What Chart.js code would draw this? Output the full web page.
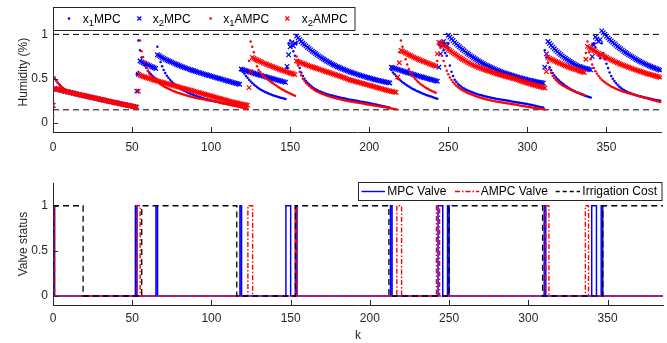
<!DOCTYPE html>
<html><head><meta charset="utf-8">
<script src="https://cdn.jsdelivr.net/npm/chart.js@4.4.1/dist/chart.umd.min.js"></script>
<style>
html,body{margin:0;padding:0;background:#fff;}
#wrap{position:relative;width:667px;height:343px;overflow:hidden;}
canvas{position:absolute;left:0;}
#topc{top:0;} #botc{top:171px;}
</style></head><body>
<div id="wrap"><canvas id="topc" width="667" height="171"></canvas><canvas id="botc" width="667" height="172"></canvas></div>
<script>
// ---------- data (index = time step k) ----------
const kMax = 385;
const xTicks = [0,50,100,150,200,250,300,350];
const yTicks = [0,0.5,1];
const humidityBounds = [1, 0.15];

const x1MPC = [
.08,.51,.48,.455,.435,.415,.40,.385,.372,.362,
.354,.347,.34,.334,.328,.323,.319,.315,.311,.307,
.303,.299,.295,.291,.287,.283,.279,.275,.271,.267,
.263,.259,.255,.251,.247,.243,.239,.235,.232,.228,
.224,.22,.216,.212,.209,.205,.201,.197,.193,.19,
.186,.182,.178,.55,.93,.82,.74,.69,.65,.62,
.59,.57,.55,.53,.515,.50,.86,.76,.69,.64,
.60,.565,.535,.51,.49,.47,.452,.436,.421,.408,
.396,.385,.374,.364,.355,.346,.338,.33,.323,.316,
.309,.303,.297,.291,.285,.28,.275,.27,.265,.26,
.256,.252,.248,.244,.24,.236,.232,.228,.224,.221,
.218,.215,.212,.209,.206,.203,.20,.197,.194,.60,
.58,.555,.53,.51,.49,.47,.452,.436,.421,.407,
.394,.382,.371,.361,.352,.344,.336,.329,.322,.315,
.309,.303,.297,.292,.287,.282,.277,.272,.62,.90,
.93,.87,.81,.76,.90,.70,.62,.57,.53,.50,
.475,.455,.437,.421,.407,.394,.382,.372,.363,.355,
.348,.341,.335,.329,.323,.318,.313,.308,.303,.299,
.295,.291,.287,.283,.279,.275,.271,.267,.263,.26,
.257,.254,.251,.248,.245,.242,.239,.236,.233,.23,
.226,.222,.218,.214,.21,.206,.202,.198,.194,.19,
.186,.182,.178,.174,.60,.57,.55,.53,.51,.493,
.477,.462,.448,.435,.423,.412,.401,.391,.381,.372,
.363,.355,.347,.339,.332,.325,.318,.311,.305,.299,
.293,.287,.281,.275,.88,.92,.87,.82,.79,.76,
.90,.65,.58,.53,.49,.465,.445,.428,.413,.40,
.39,.38,.371,.363,.355,.348,.341,.335,.329,.323,
.318,.313,.308,.303,.299,.295,.291,.287,.283,.279,
.275,.272,.269,.266,.263,.26,.257,.254,.251,.248,
.245,.242,.239,.236,.233,.23,.227,.224,.221,.218,
.215,.211,.207,.203,.199,.195,.191,.187,.183,.179,
.175,.82,.74,.68,.63,.595,.565,.54,.518,.498,
.48,.464,.449,.435,.422,.41,.398,.387,.377,.367,
.358,.349,.341,.333,.326,.319,.312,.306,.30,.294,
.288,.88,.90,.85,.80,.76,.73,.90,.79,.72,
.67,.62,.57,.53,.50,.475,.452,.432,.414,.398,
.385,.373,.363,.354,.346,.339,.332,.326,.32,.314,
.309,.304,.299,.294,.29,.286,.282,.278,.274,.27,
.266,.262,.258,.255,.252];

const x2MPC = [
.2,.39,.385,.38,.376,.372,.367,.362,.358,.354,
.35,.345,.341,.337,.333,.328,.324,.32,.316,.312,
.308,.304,.3,.296,.292,.288,.284,.28,.276,.272,
.268,.264,.26,.256,.252,.248,.244,.24,.237,.233,
.229,.225,.221,.217,.214,.21,.206,.202,.198,.195,
.191,.187,.183,.36,.55,.70,.69,.68,.672,.664,
.656,.648,.64,.632,.624,.616,.77,.76,.75,.74,
.73,.721,.712,.703,.695,.687,.679,.671,.663,.655,
.648,.641,.634,.627,.62,.614,.608,.602,.596,.59,
.584,.578,.572,.566,.56,.555,.55,.545,.54,.535,
.529,.524,.519,.513,.508,.503,.498,.493,.487,.482,
.477,.472,.467,.462,.457,.452,.447,.443,.438,.61,
.603,.597,.591,.585,.579,.573,.567,.562,.556,.551,
.545,.54,.535,.53,.525,.52,.515,.51,.505,.50,
.495,.49,.485,.48,.475,.47,.465,.46,.64,.77,
.86,.91,.87,.90,.98,.96,.94,.92,.90,.885,
.87,.855,.84,.825,.81,.797,.784,.771,.758,.746,
.734,.722,.711,.70,.69,.68,.67,.661,.652,.643,
.635,.627,.619,.611,.604,.597,.59,.583,.576,.57,
.564,.558,.552,.546,.54,.535,.529,.524,.519,.514,
.509,.504,.499,.494,.489,.485,.48,.476,.472,.468,
.464,.46,.456,.452,.63,.624,.618,.612,.606,.60,
.594,.588,.582,.576,.571,.565,.56,.554,.549,.543,
.538,.533,.527,.522,.517,.512,.507,.502,.497,.492,
.487,.482,.477,.472,.63,.78,.88,.92,.89,.87,
.99,.97,.95,.93,.91,.893,.876,.86,.845,.83,
.815,.80,.787,.774,.761,.749,.737,.725,.714,.703,
.692,.682,.672,.662,.653,.644,.635,.627,.619,.611,
.603,.596,.589,.582,.575,.569,.563,.557,.551,.545,
.539,.534,.528,.523,.518,.513,.508,.503,.498,.494,
.489,.485,.481,.477,.473,.469,.465,.461,.458,.455,
.452,.63,.78,.92,.898,.877,.857,.838,.82,.803,
.787,.772,.758,.744,.731,.718,.706,.694,.683,.672,
.662,.652,.643,.638,.632,.626,.62,.615,.61,.605,
.60,.75,.88,.97,.95,.92,.94,1.04,1.02,1.0,
.98,.96,.943,.926,.91,.894,.879,.864,.85,.836,
.822,.809,.796,.784,.772,.76,.749,.738,.727,.717,
.707,.697,.688,.679,.67,.662,.654,.646,.638,.631,
.624,.617,.61,.603,.597];

const x1AMPC = [
.076,.51,.48,.455,.435,.415,.40,.385,.372,.362,
.354,.347,.34,.334,.328,.323,.319,.315,.311,.307,
.303,.299,.295,.291,.287,.283,.279,.275,.271,.267,
.263,.259,.255,.251,.247,.243,.239,.235,.232,.228,
.224,.22,.216,.212,.209,.205,.201,.197,.193,.19,
.186,.182,.178,.178,.58,.93,.81,.745,.69,.63,
.59,.556,.535,.515,.497,.48,.465,.451,.438,.426,
.415,.405,.395,.386,.378,.37,.363,.356,.349,.343,
.337,.331,.325,.319,.314,.309,.304,.299,.294,.289,
.285,.281,.277,.274,.271,.268,.265,.262,.259,.256,
.253,.249,.245,.241,.237,.233,.229,.225,.221,.217,
.213,.209,.205,.201,.197,.193,.189,.185,.181,.177,
.174,.171,.168,.165,.70,.92,.86,.80,.70,.64,
.60,.575,.553,.534,.517,.502,.488,.475,.462,.45,
.438,.426,.414,.402,.391,.38,.37,.36,.351,.342,
.333,.325,.317,.309,.75,.65,.58,.54,.50,.475,
.453,.434,.417,.402,.389,.377,.366,.356,.347,.339,
.331,.324,.317,.311,.305,.299,.294,.289,.284,.279,
.275,.271,.267,.263,.259,.255,.251,.247,.244,.241,
.238,.235,.232,.229,.226,.223,.22,.217,.214,.211,
.208,.205,.202,.199,.196,.193,.19,.187,.184,.181,
.178,.175,.172,.169,.166,.163,.16,.157,.50,.80,
.93,.86,.80,.72,.66,.61,.57,.54,.52,.50,
.48,.463,.447,.433,.42,.408,.397,.386,.376,.367,
.358,.35,.342,.70,.90,.85,.76,.70,.645,.59,
.55,.515,.485,.46,.44,.422,.407,.394,.382,.371,
.361,.352,.343,.335,.327,.32,.313,.306,.30,.294,
.288,.283,.278,.273,.268,.264,.26,.256,.252,.248,
.245,.242,.239,.236,.233,.23,.227,.224,.221,.218,
.215,.212,.209,.206,.203,.20,.197,.194,.191,.188,
.185,.182,.179,.176,.173,.17,.167,.164,.161,.158,
.155,.153,.78,.68,.61,.565,.53,.505,.485,.468,
.453,.44,.428,.417,.407,.397,.388,.379,.371,.363,
.356,.349,.342,.336,.33,.324,.318,.79,.92,.80,
.72,.66,.62,.585,.555,.53,.508,.49,.474,.46,
.447,.435,.424,.414,.405,.396,.388,.38,.373,.366,
.36,.354,.348,.342,.337,.332,.327,.322,.317,.312,
.307,.302,.297,.292,.287,.282,.277,.272,.267,.262,
.257,.252,.247,.243,.239];

const x2AMPC = [
.2,.39,.385,.38,.376,.372,.367,.362,.358,.354,
.35,.345,.341,.337,.333,.328,.324,.32,.316,.312,
.308,.304,.3,.296,.292,.288,.284,.28,.276,.272,
.268,.264,.26,.256,.252,.248,.244,.24,.237,.233,
.229,.225,.221,.217,.214,.21,.206,.202,.198,.195,
.191,.187,.183,.18,.36,.54,.533,.526,.52,.514,
.508,.502,.496,.49,.485,.48,.475,.47,.465,.46,
.455,.45,.445,.44,.435,.43,.425,.42,.415,.41,
.405,.40,.395,.39,.385,.38,.375,.37,.365,.36,
.355,.35,.345,.34,.335,.33,.325,.32,.315,.31,
.305,.30,.295,.29,.285,.28,.275,.27,.265,.26,
.255,.25,.245,.24,.236,.232,.228,.224,.22,.216,
.212,.208,.205,.202,.40,.58,.74,.73,.721,.712,
.703,.695,.687,.679,.671,.663,.656,.649,.642,.635,
.628,.621,.614,.607,.601,.595,.589,.583,.577,.571,
.565,.559,.553,.547,.70,.693,.686,.679,.672,.665,
.658,.651,.645,.639,.633,.627,.621,.615,.609,.603,
.597,.591,.585,.579,.573,.567,.561,.555,.549,.543,
.537,.531,.525,.519,.513,.506,.499,.492,.486,.481,
.476,.471,.466,.461,.456,.451,.446,.441,.436,.431,
.426,.421,.416,.411,.406,.401,.396,.391,.386,.381,
.376,.371,.366,.362,.358,.354,.35,.346,.52,.68,
.82,.81,.80,.79,.78,.771,.762,.753,.744,.736,
.728,.72,.712,.704,.697,.69,.683,.676,.669,.662,
.655,.648,.641,.78,.91,.905,.89,.875,.86,.846,
.832,.818,.805,.792,.779,.767,.755,.743,.731,.72,
.709,.698,.688,.678,.668,.659,.651,.643,.636,.629,
.622,.615,.608,.602,.596,.59,.584,.578,.572,.566,
.56,.554,.548,.543,.538,.533,.528,.523,.518,.513,
.508,.503,.498,.493,.488,.481,.475,.469,.463,.457,
.451,.445,.44,.435,.43,.425,.42,.415,.41,.405,
.40,.396,.58,.74,.73,.721,.712,.703,.694,.686,
.678,.67,.662,.654,.647,.64,.633,.626,.619,.612,
.606,.60,.594,.588,.582,.576,.57,.72,.865,.853,
.841,.83,.819,.808,.797,.787,.777,.767,.757,.748,
.739,.73,.721,.712,.704,.696,.688,.68,.672,.664,
.657,.65,.643,.636,.629,.622,.615,.609,.603,.597,
.591,.585,.579,.573,.567,.561,.556,.551,.546,.541,
.536,.531,.526,.521,.516];

// valve switching instants (k where the valve turns on / off)
const mpcValveOn   = [0,52,65,118,147,153,213,243,249,310,340,346];
const mpcValveOff  = [1,53,66,119,150,154,214,246,250,311,343,347];
const ampcValveOn  = [0,53,123,153,217,242,311,336];
const ampcValveOff = [1,55,126,154,220,244,313,338];
const costHighFrom = [0,56,153,250,347];
const costLowFrom  = [19,116,212,309];

// ---------- helpers ----------
const FONT = '"Liberation Sans", Arial, Helvetica, sans-serif';
const AX = '#262626';
const BLUE = '#0000ff', RED = '#ff0000';
Chart.defaults.font.family = FONT;
Chart.defaults.color = AX;

const series = arr => arr.map((v, k) => ({x: k, y: v}));
function stepPts(onList, offList, end) {
  const edges = onList.map(k => [k, 1]).concat(offList.map(k => [k, 0])).sort((a, b) => a[0] - b[0]);
  const pts = [];
  if (edges[0][0] > 0) pts.push({x: 0, y: 0});
  edges.forEach(([k, v]) => pts.push({x: k, y: v}));
  pts.push({x: end, y: pts[pts.length - 1].y});
  return pts;
}

const inwardTicks = {
  id: 'inwardTicks',
  afterDraw(chart) {
    const {ctx, chartArea: a} = chart;
    const xs = chart.scales.x, ys = chart.scales.y;
    ctx.save();
    ctx.strokeStyle = AX; ctx.lineWidth = 1;
    ctx.beginPath();
    xs.ticks.forEach(t => { const p = Math.round(xs.getPixelForValue(t.value)) + 0.5; ctx.moveTo(p, a.bottom); ctx.lineTo(p, a.bottom - 5); });
    ys.ticks.forEach(t => { const p = Math.round(ys.getPixelForValue(t.value)) + 0.5; ctx.moveTo(a.left, p); ctx.lineTo(a.left + 5, p); });
    ctx.stroke();
    ctx.restore();
  }
};

function scalesCfg(fitH, xPad, xTitle, yTitle) {
  return {
    x: {
      type: 'linear', min: 0, max: kMax,
      afterBuildTicks: s => { s.ticks = xTicks.map(v => ({value: v})); },
      afterFit: s => { s.height = fitH; },
      grid: {display: false, drawTicks: false},
      border: {display: true, color: AX, width: 1},
      ticks: {padding: xPad, font: {size: 12}, color: AX, maxRotation: 0, autoSkip: false},
      title: xTitle ? {display: true, text: xTitle, font: {size: 12}, color: AX, padding: {top: 0, bottom: 0.5}} : {display: false}
    },
    y: {
      type: 'linear', min: -0.1, max: 1.25,
      afterBuildTicks: s => { s.ticks = yTicks.map(v => ({value: v})); },
      afterFit: s => { s.width = 53; },
      grid: {display: false, drawTicks: false},
      border: {display: true, color: AX, width: 1},
      ticks: {padding: 5, font: {size: 12}, color: AX, callback: v => String(v)},
      title: {display: true, text: yTitle, font: {size: 12}, color: AX, padding: {top: 16, bottom: 0}}
    }
  };
}

// ---------- top chart: humidity ----------
const topLegendItems = [
  {sub: '1', rest: 'MPC', color: BLUE, mark: 'dot', mx: 69, tx: 82.7},
  {sub: '2', rest: 'MPC', color: BLUE, mark: 'x', mx: 139.3, tx: 152.7},
  {sub: '1', rest: 'AMPC', color: RED, mark: 'dot', mx: 210.7, tx: 223.3},
  {sub: '2', rest: 'AMPC', color: RED, mark: 'x', mx: 287.3, tx: 301.7}
];
const topLegend = {
  id: 'topLegend',
  afterDraw(chart) {
    const ctx = chart.ctx;
    ctx.save();
    ctx.fillStyle = '#fff'; ctx.fillRect(53.5, 7.5, 301.5, 23);
    ctx.strokeStyle = AX; ctx.lineWidth = 1; ctx.strokeRect(53.5, 7.5, 301.5, 23);
    const cy = 18.5;
    topLegendItems.forEach(it => {
      ctx.fillStyle = it.color; ctx.strokeStyle = it.color;
      if (it.mark === 'dot') { ctx.beginPath(); ctx.arc(it.mx, cy, 1.3, 0, Math.PI * 2); ctx.fill(); }
      else { ctx.lineWidth = 1.2; ctx.beginPath(); ctx.moveTo(it.mx - 2, cy - 2); ctx.lineTo(it.mx + 2, cy + 2); ctx.moveTo(it.mx + 2, cy - 2); ctx.lineTo(it.mx - 2, cy + 2); ctx.stroke(); }
      ctx.fillStyle = '#000'; ctx.textBaseline = 'alphabetic'; ctx.textAlign = 'left';
      ctx.font = '12px ' + FONT;
      let x = it.tx;
      ctx.fillText('x', x, 22.5); x += ctx.measureText('x').width;
      ctx.font = '9.5px ' + FONT;
      ctx.fillText(it.sub, x, 26); x += ctx.measureText(it.sub).width;
      ctx.font = '12px ' + FONT;
      ctx.fillText(it.rest, x, 22.5);
    });
    ctx.restore();
  }
};

const refLine = v => ({
  type: 'line', data: [{x: 0, y: v}, {x: kMax, y: v}], borderColor: '#000', borderWidth: 1,
  borderDash: [6, 4], pointRadius: 0, showLine: true, order: 10, fill: false
});

new Chart(document.getElementById('topc'), {
  type: 'scatter',
  data: {
    datasets: [
      refLine(humidityBounds[0]),
      refLine(humidityBounds[1]),
      {label: 'x1MPC', data: series(x1MPC), pointStyle: 'circle', pointRadius: 1.25, pointBorderWidth: 0, pointBackgroundColor: BLUE, order: 4},
      {label: 'x2MPC', data: series(x2MPC), pointStyle: 'crossRot', pointRadius: 3.2, pointBorderWidth: 1.2, pointBorderColor: BLUE, order: 3},
      {label: 'x1AMPC', data: series(x1AMPC), pointStyle: 'circle', pointRadius: 1.25, pointBorderWidth: 0, pointBackgroundColor: RED, order: 2},
      {label: 'x2AMPC', data: series(x2AMPC), pointStyle: 'crossRot', pointRadius: 3.2, pointBorderWidth: 1.2, pointBorderColor: RED, order: 1}
    ]
  },
  options: {
    responsive: false, animation: false, events: [],
    layout: {padding: {left: 0, right: 4, top: 8, bottom: 0}},
    plugins: {legend: {display: false}, tooltip: {enabled: false}},
    scales: scalesCfg(39, 8, null, 'Humidity (%)')
  },
  plugins: [inwardTicks, topLegend]
});

// ---------- bottom chart: valves ----------
const botLegendItems = [
  {text: 'MPC Valve', color: BLUE, dash: [], x0: 361.5, x1: 385, tx: 387.3},
  {text: 'AMPC Valve', color: RED, dash: [5, 2, 1.5, 2], x0: 455, x1: 479.3, tx: 480.7},
  {text: 'Irrigation Cost', color: '#000', dash: [4, 3], x0: 555.7, x1: 580, tx: 582.3}
];
const botLegend = {
  id: 'botLegend',
  afterDraw(chart) {
    const ctx = chart.ctx;
    ctx.save();
    ctx.fillStyle = '#fff'; ctx.fillRect(358.5, 11.5, 303.5, 18);
    ctx.strokeStyle = AX; ctx.lineWidth = 1; ctx.strokeRect(358.5, 11.5, 303.5, 18);
    const cy = 20.5;
    botLegendItems.forEach(it => {
      ctx.strokeStyle = it.color; ctx.lineWidth = 1.4; ctx.setLineDash(it.dash);
      ctx.beginPath(); ctx.moveTo(it.x0, cy); ctx.lineTo(it.x1, cy); ctx.stroke();
      ctx.setLineDash([]);
      ctx.fillStyle = '#000'; ctx.font = '12px ' + FONT; ctx.textBaseline = 'middle'; ctx.textAlign = 'left';
      ctx.fillText(it.text, it.tx, cy + 0.5);
    });
    ctx.restore();
  }
};

new Chart(document.getElementById('botc'), {
  type: 'scatter',
  data: {
    datasets: [
      {label: 'MPC Valve', data: stepPts(mpcValveOn, mpcValveOff, kMax), showLine: true, stepped: 'before', borderColor: BLUE, borderWidth: 1.5, pointRadius: 0, order: 3},
      {label: 'AMPC Valve', data: stepPts(ampcValveOn, ampcValveOff, kMax), showLine: true, stepped: 'before', borderColor: RED, borderWidth: 1.4, borderDash: [5, 2, 1.5, 2], pointRadius: 0, order: 2},
      {label: 'Irrigation Cost', data: stepPts(costHighFrom, costLowFrom, kMax), showLine: true, stepped: 'before', borderColor: '#000', borderWidth: 1.3, borderDash: [6, 4], pointRadius: 0, order: 1}
    ]
  },
  options: {
    responsive: false, animation: false, events: [],
    layout: {padding: {left: 0, right: 4, top: 9, bottom: 0}},
    plugins: {legend: {display: false}, tooltip: {enabled: false}},
    scales: scalesCfg(38, 6.5, 'k', 'Valve status')
  },
  plugins: [inwardTicks, botLegend]
});
</script></body></html>
